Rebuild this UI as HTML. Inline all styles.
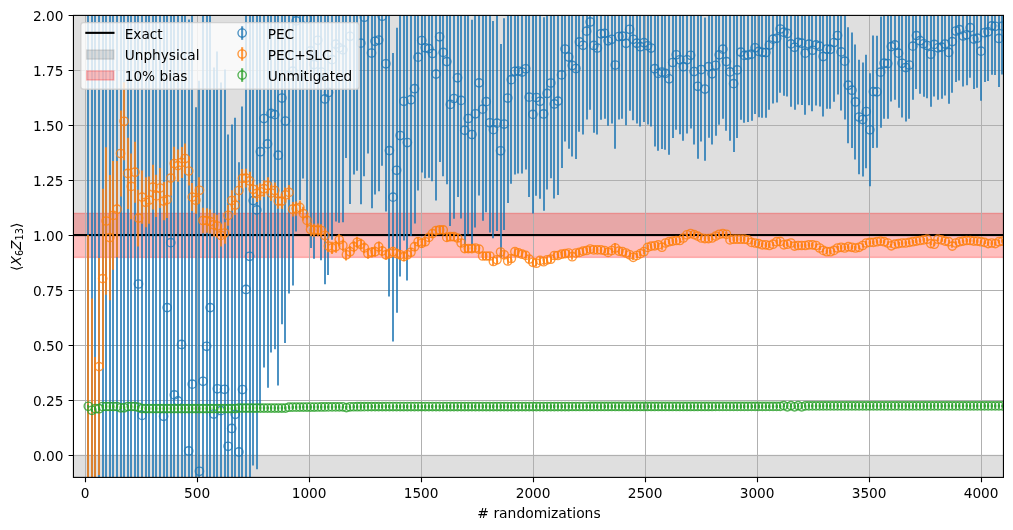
<!DOCTYPE html>
<html><head><meta charset="utf-8"><title>PEC convergence</title>
<style>html,body{margin:0;padding:0;background:#fff}svg{display:block}</style></head>
<body>
<svg width="1013" height="530" viewBox="0 0 1013 530">
<rect width="1013" height="530" fill="#fff"/>
<defs><clipPath id="ax"><rect x="73.45" y="15.4" width="930.0" height="462.0"/></clipPath></defs>
<g clip-path="url(#ax)">
<rect x="68.45" y="10.4" width="940.0" height="225.0" fill="#808080" fill-opacity="0.25" stroke="#808080" stroke-opacity="0.25" stroke-width="1.39"/>
<rect x="68.45" y="455.4" width="940.0" height="40" fill="#808080" fill-opacity="0.25" stroke="#808080" stroke-opacity="0.25" stroke-width="1.39"/>
<rect x="68.45" y="213.4" width="940.0" height="44.0" fill="#ff0000" fill-opacity="0.25" stroke="#ff0000" stroke-opacity="0.25" stroke-width="1.39"/>
<path d="M85.5 15.4 V477.4 M197.5 15.4 V477.4 M309.5 15.4 V477.4 M421.5 15.4 V477.4 M533.5 15.4 V477.4 M645.5 15.4 V477.4 M757.5 15.4 V477.4 M869.5 15.4 V477.4 M981.5 15.4 V477.4 M73.45 455.5 H1003.45 M73.45 400.5 H1003.45 M73.45 345.5 H1003.45 M73.45 290.5 H1003.45 M73.45 235.5 H1003.45 M73.45 180.5 H1003.45 M73.45 125.5 H1003.45 M73.45 70.5 H1003.45 M73.45 15.5 H1003.45" stroke="#b0b0b0" stroke-width="1" fill="none"/>
<rect x="73.45" y="234" width="930.0" height="2.1" fill="#000"/>
<path d="M88 13.4 V479.4 M92 13.4 V479.4 M95 13.4 V479.4 M99 13.4 V479.4 M103 13.4 V479.4 M106 13.4 V479.4 M110 13.4 V479.4 M113 13.4 V479.4 M117 13.4 V479.4 M121 13.4 V479.4 M124 13.4 V479.4 M128 13.4 V479.4 M131 13.4 V479.4 M135 13.4 V479.4 M138 12.4 V480.4 M142 12.4 V480.4 M146 13.4 V479.4 M149 13.4 V479.4 M153 13.4 V479.4 M156 13.4 V479.4 M160 13.4 V479.4 M164 12.4 V480.4 M167 12.4 V480.4 M171 12.4 V480.4 M174 12.4 V480.4 M178 12.4 V480.4 M182 12.4 V480.4 M185 13.4 V479.4 M189 19.5 V480.4 M192 12.4 V480.4 M196 107.15 V480.4 M199 80.8 V480.4 M203 12.4 V480.4 M207 12.4 V480.4 M210 12.4 V480.4 M214 67.43 V480.4 M217 51.57 V480.4 M221 82.41 V480.4 M225 69.56 V480.4 M228 134.61 V480.4 M232 124.45 V480.4 M235 117.66 V480.4 M239 162.21 V480.4 M242 106.45 V480.4 M246 12.7 V480.4 M250 12.4 V480.4 M253 12.4 V465.49 M257 12.4 V469.22 M260 12.4 V405.69 M264 12.4 V367.43 M268 12.4 V387.87 M271 12.4 V352.59 M275 12.4 V349.36 M278 12.4 V385.51 M282 12.4 V324.14 M285 12.4 V343.1 M289 12.4 V293.6 M293 12.4 V285.42 M296 12.4 V231.59 M300 12.4 V199.97 M303 12.4 V178.5 M307 12.4 V219.41 M311 12.4 V248.11 M314 12.4 V258.65 M318 12.4 V231.39 M321 12.4 V260.28 M325 12.4 V284.35 M328 12.4 V275.08 M332 12.4 V239.63 M336 12.4 V221.51 M339 12.4 V222.68 M343 12.4 V222.28 M346 12.4 V158.12 M350 12.4 V204.07 M354 12.4 V174.47 M357 12.4 V170.84 M361 12.4 V204.3 M364 12.4 V176.31 M368 12.4 V153.58 M372 12.4 V208.15 M375 12.4 V194.49 M379 12.4 V191.32 M382 12.4 V165.72 M386 12.4 V211.49 M389 12.4 V296.54 M393 52.93 V341.4 M397 27.69 V312.82 M400 12.4 V276.47 M404 12.4 V240.62 M407 12.4 V280.38 M411 12.4 V235.96 M415 12.4 V223.48 M418 12.4 V190.48 M422 12.4 V172.4 M425 12.4 V178.35 M429 12.4 V177.83 M432 12.4 V181.32 M436 12.4 V200.62 M440 12.4 V162.05 M443 12.4 V176.35 M447 12.4 V184.35 M450 12.4 V225.9 M454 12.4 V218.85 M458 12.4 V196.96 M461 12.4 V218.44 M465 13.38 V247.22 M468 12.4 V234.32 M472 19.75 V249.25 M475 12.4 V227.49 M479 12.4 V195.51 M483 12.4 V220.81 M486 12.4 V212.28 M490 13.13 V232.44 M493 20.97 V238.35 M497 15.41 V230.9 M501 43.99 V257.61 M504 18.2 V229.99 M508 12.4 V203.01 M511 12.4 V183.76 M515 12.4 V174.57 M518 12.4 V173.44 M522 12.4 V173.58 M526 12.4 V169.51 M529 12.4 V197.07 M533 15.29 V213.48 M536 12.4 V195.82 M540 12.4 V198.77 M544 17.21 V210.75 M547 12.4 V189.48 M551 12.4 V178.28 M554 12.4 V198.5 M558 12.4 V194.93 M562 12.4 V168 M565 12.4 V141.43 M569 12.4 V148.77 M572 12.4 V156.54 M576 12.4 V158.92 M579 12.4 V131.63 M583 12.4 V134.39 M587 12.4 V119.58 M590 12.4 V109.8 M594 12.4 V132.67 M597 12.4 V134.58 M601 12.4 V119.79 M605 12.4 V118.68 M608 12.4 V125.63 M612 12.4 V123.5 M615 12.4 V148.68 M619 12.4 V119.61 M622 12.4 V118.76 M626 12.4 V125.36 M630 12.4 V110.77 M633 12.4 V120.22 M637 12.4 V123.61 M640 12.4 V126.59 M644 12.4 V122.06 M648 12.4 V124.62 M651 12.4 V126.39 M655 12.4 V146.57 M658 12.4 V150.76 M662 12.4 V148.91 M665 12.4 V149.78 M669 12.4 V154.77 M673 12.4 V137.96 M676 12.4 V129.76 M680 12.4 V134.33 M683 12.4 V140.84 M687 12.4 V133.43 M691 12.4 V128.56 M694 12.4 V144.4 M698 13.91 V158.67 M701 12.4 V141.51 M705 17.54 V160.63 M709 12.4 V137.85 M712 12.4 V144.55 M716 12.4 V135.64 M719 12.4 V124.79 M723 12.4 V118.66 M726 12.4 V130.76 M730 12.4 V140.69 M734 15.26 V152 M737 12.4 V137.95 M741 12.4 V119.72 M744 12.4 V122.69 M748 12.4 V121.96 M752 12.4 V120.69 M755 12.4 V113.97 M759 12.4 V117.25 M762 12.4 V117.79 M766 12.4 V117.68 M769 12.4 V109.82 M773 12.4 V103.59 M777 12.4 V102.45 M780 12.4 V92.77 M784 12.4 V95.69 M787 12.4 V96.61 M791 12.4 V106.73 M795 12.4 V109.78 M798 12.4 V104.46 M802 12.4 V105.09 M805 12.4 V114.73 M809 12.4 V105.37 M812 12.4 V111.2 M816 12.4 V105.53 M820 12.4 V106.58 M823 12.4 V116.6 M827 12.4 V108.81 M830 12.4 V108.83 M834 12.4 V101.78 M838 12.4 V94.42 M841 12.4 V110.55 M845 12.4 V119.54 M848 27.15 V143.31 M852 32.38 V148.01 M855 44.42 V159.51 M859 59.77 V174.32 M863 62.51 V176.54 M866 54.84 V168.34 M870 73.33 V186.31 M873 35.41 V147.88 M877 35.85 V147.81 M881 16.42 V127.87 M884 12.4 V118.7 M888 12.4 V118.8 M891 12.4 V101.58 M895 12.4 V99.68 M899 12.4 V107.66 M902 12.4 V117.57 M906 13.51 V121.55 M909 12.4 V118.86 M913 12.4 V99.71 M916 12.4 V88.93 M920 12.4 V93.81 M924 12.4 V96.7 M927 12.4 V98.14 M931 12.4 V106.66 M934 12.4 V96.6 M938 12.4 V99.79 M942 12.4 V98.87 M945 12.4 V95.53 M949 12.4 V103.75 M952 12.4 V92.72 M956 12.4 V81.95 M959 12.4 V80.42 M963 12.4 V86.47 M967 12.4 V85.13 M970 12.4 V77.8 M974 12.4 V88.99 M977 12.4 V87.77 M981 12.4 V100.65 M985 12.4 V82.01 M988 12.4 V80.92 M992 12.4 V74.74 M995 12.4 V74.97 M999 12.4 V86.96 M1002 12.4 V74.42" stroke="#1f77b4" stroke-opacity="0.8" stroke-width="2" fill="none"/>
<g fill="none" stroke="#1f77b4" stroke-opacity="0.8" stroke-width="1.39">
<circle cx="138.49" cy="284" r="4.17"/>
<circle cx="142.07" cy="415.41" r="4.17"/>
<circle cx="163.58" cy="416.32" r="4.17"/>
<circle cx="167.17" cy="307.61" r="4.17"/>
<circle cx="170.75" cy="242.68" r="4.17"/>
<circle cx="174.34" cy="394.89" r="4.17"/>
<circle cx="177.93" cy="400.88" r="4.17"/>
<circle cx="181.51" cy="344.49" r="4.17"/>
<circle cx="188.68" cy="450.95" r="4.17"/>
<circle cx="192.26" cy="384.17" r="4.17"/>
<circle cx="199.44" cy="471.31" r="4.17"/>
<circle cx="203.02" cy="381.26" r="4.17"/>
<circle cx="206.6" cy="346.3" r="4.17"/>
<circle cx="210.19" cy="307.61" r="4.17"/>
<circle cx="213.77" cy="414.09" r="4.17"/>
<circle cx="217.36" cy="388.77" r="4.17"/>
<circle cx="220.94" cy="410.65" r="4.17"/>
<circle cx="224.53" cy="389.3" r="4.17"/>
<circle cx="228.12" cy="446.28" r="4.17"/>
<circle cx="231.7" cy="428.45" r="4.17"/>
<circle cx="235.28" cy="414.36" r="4.17"/>
<circle cx="238.87" cy="451.94" r="4.17"/>
<circle cx="242.45" cy="389.54" r="4.17"/>
<circle cx="246.04" cy="289.45" r="4.17"/>
<circle cx="249.62" cy="256.3" r="4.17"/>
<circle cx="253.21" cy="200.61" r="4.17"/>
<circle cx="256.8" cy="209.9" r="4.17"/>
<circle cx="260.38" cy="151.71" r="4.17"/>
<circle cx="263.96" cy="118.56" r="4.17"/>
<circle cx="267.55" cy="143.92" r="4.17"/>
<circle cx="271.13" cy="113.36" r="4.17"/>
<circle cx="274.72" cy="114.68" r="4.17"/>
<circle cx="278.31" cy="155.2" r="4.17"/>
<circle cx="281.89" cy="98.05" r="4.17"/>
<circle cx="285.48" cy="121.08" r="4.17"/>
<circle cx="289.06" cy="75.5" r="4.17"/>
<circle cx="292.64" cy="71.11" r="4.17"/>
<circle cx="296.23" cy="20.93" r="4.17"/>
<circle cx="306.99" cy="19" r="4.17"/>
<circle cx="310.57" cy="50.91" r="4.17"/>
<circle cx="314.15" cy="64.54" r="4.17"/>
<circle cx="317.74" cy="40.29" r="4.17"/>
<circle cx="321.32" cy="72.09" r="4.17"/>
<circle cx="324.91" cy="98.98" r="4.17"/>
<circle cx="328.5" cy="92.45" r="4.17"/>
<circle cx="332.08" cy="59.66" r="4.17"/>
<circle cx="335.67" cy="44.13" r="4.17"/>
<circle cx="339.25" cy="47.81" r="4.17"/>
<circle cx="342.83" cy="49.85" r="4.17"/>
<circle cx="350" cy="36.33" r="4.17"/>
<circle cx="353.59" cy="8.97" r="4.17"/>
<circle cx="357.18" cy="7.53" r="4.17"/>
<circle cx="360.76" cy="43.13" r="4.17"/>
<circle cx="364.35" cy="17.21" r="4.17"/>
<circle cx="371.51" cy="53.05" r="4.17"/>
<circle cx="375.1" cy="41.31" r="4.17"/>
<circle cx="378.69" cy="40.02" r="4.17"/>
<circle cx="382.27" cy="16.24" r="4.17"/>
<circle cx="385.86" cy="63.81" r="4.17"/>
<circle cx="389.44" cy="150.6" r="4.17"/>
<circle cx="393.03" cy="197.16" r="4.17"/>
<circle cx="396.61" cy="170.25" r="4.17"/>
<circle cx="400.19" cy="135.52" r="4.17"/>
<circle cx="403.78" cy="101.27" r="4.17"/>
<circle cx="407.37" cy="142.59" r="4.17"/>
<circle cx="410.95" cy="99.69" r="4.17"/>
<circle cx="414.54" cy="88.69" r="4.17"/>
<circle cx="418.12" cy="57.15" r="4.17"/>
<circle cx="421.7" cy="40.49" r="4.17"/>
<circle cx="425.29" cy="47.83" r="4.17"/>
<circle cx="428.88" cy="48.68" r="4.17"/>
<circle cx="432.46" cy="53.51" r="4.17"/>
<circle cx="436.05" cy="74.11" r="4.17"/>
<circle cx="439.63" cy="36.83" r="4.17"/>
<circle cx="443.22" cy="52.38" r="4.17"/>
<circle cx="446.8" cy="61.62" r="4.17"/>
<circle cx="450.38" cy="104.38" r="4.17"/>
<circle cx="453.97" cy="98.5" r="4.17"/>
<circle cx="457.56" cy="77.78" r="4.17"/>
<circle cx="461.14" cy="100.4" r="4.17"/>
<circle cx="464.73" cy="130.3" r="4.17"/>
<circle cx="468.31" cy="118.49" r="4.17"/>
<circle cx="471.89" cy="134.5" r="4.17"/>
<circle cx="475.48" cy="113.8" r="4.17"/>
<circle cx="479.06" cy="82.86" r="4.17"/>
<circle cx="482.65" cy="109.17" r="4.17"/>
<circle cx="486.24" cy="101.64" r="4.17"/>
<circle cx="489.82" cy="122.79" r="4.17"/>
<circle cx="493.41" cy="129.66" r="4.17"/>
<circle cx="496.99" cy="123.15" r="4.17"/>
<circle cx="500.57" cy="150.8" r="4.17"/>
<circle cx="504.16" cy="124.09" r="4.17"/>
<circle cx="507.75" cy="98.02" r="4.17"/>
<circle cx="511.33" cy="79.66" r="4.17"/>
<circle cx="514.91" cy="71.33" r="4.17"/>
<circle cx="518.5" cy="71.06" r="4.17"/>
<circle cx="522.08" cy="72.04" r="4.17"/>
<circle cx="525.67" cy="68.79" r="4.17"/>
<circle cx="529.25" cy="97.18" r="4.17"/>
<circle cx="532.84" cy="114.39" r="4.17"/>
<circle cx="536.42" cy="97.51" r="4.17"/>
<circle cx="540.01" cy="101.24" r="4.17"/>
<circle cx="543.6" cy="113.98" r="4.17"/>
<circle cx="547.18" cy="93.47" r="4.17"/>
<circle cx="550.76" cy="83" r="4.17"/>
<circle cx="554.35" cy="103.95" r="4.17"/>
<circle cx="557.93" cy="101.1" r="4.17"/>
<circle cx="561.52" cy="74.88" r="4.17"/>
<circle cx="565.11" cy="49.01" r="4.17"/>
<circle cx="568.69" cy="57.04" r="4.17"/>
<circle cx="572.27" cy="65.48" r="4.17"/>
<circle cx="575.86" cy="68.53" r="4.17"/>
<circle cx="579.44" cy="41.9" r="4.17"/>
<circle cx="583.03" cy="45.3" r="4.17"/>
<circle cx="586.62" cy="31.13" r="4.17"/>
<circle cx="590.2" cy="21.98" r="4.17"/>
<circle cx="593.78" cy="45.47" r="4.17"/>
<circle cx="597.37" cy="47.99" r="4.17"/>
<circle cx="600.95" cy="33.8" r="4.17"/>
<circle cx="604.54" cy="33.29" r="4.17"/>
<circle cx="608.12" cy="40.83" r="4.17"/>
<circle cx="611.71" cy="39.27" r="4.17"/>
<circle cx="615.29" cy="65.02" r="4.17"/>
<circle cx="618.88" cy="36.52" r="4.17"/>
<circle cx="622.46" cy="36.22" r="4.17"/>
<circle cx="626.05" cy="43.37" r="4.17"/>
<circle cx="629.63" cy="29.32" r="4.17"/>
<circle cx="633.22" cy="39.3" r="4.17"/>
<circle cx="636.8" cy="43.22" r="4.17"/>
<circle cx="640.39" cy="46.72" r="4.17"/>
<circle cx="643.97" cy="42.7" r="4.17"/>
<circle cx="647.56" cy="45.76" r="4.17"/>
<circle cx="651.14" cy="48.04" r="4.17"/>
<circle cx="654.73" cy="68.71" r="4.17"/>
<circle cx="658.31" cy="73.4" r="4.17"/>
<circle cx="661.9" cy="72.02" r="4.17"/>
<circle cx="665.48" cy="73.37" r="4.17"/>
<circle cx="669.07" cy="78.83" r="4.17"/>
<circle cx="672.65" cy="62.49" r="4.17"/>
<circle cx="676.24" cy="54.74" r="4.17"/>
<circle cx="679.82" cy="59.76" r="4.17"/>
<circle cx="683.41" cy="66.72" r="4.17"/>
<circle cx="687" cy="59.75" r="4.17"/>
<circle cx="690.58" cy="55.32" r="4.17"/>
<circle cx="694.16" cy="71.59" r="4.17"/>
<circle cx="697.75" cy="86.29" r="4.17"/>
<circle cx="701.33" cy="69.55" r="4.17"/>
<circle cx="704.92" cy="89.09" r="4.17"/>
<circle cx="708.5" cy="66.72" r="4.17"/>
<circle cx="712.09" cy="73.83" r="4.17"/>
<circle cx="715.67" cy="65.32" r="4.17"/>
<circle cx="719.26" cy="54.87" r="4.17"/>
<circle cx="722.84" cy="49.13" r="4.17"/>
<circle cx="726.43" cy="61.62" r="4.17"/>
<circle cx="730.01" cy="71.93" r="4.17"/>
<circle cx="733.6" cy="83.63" r="4.17"/>
<circle cx="737.18" cy="69.95" r="4.17"/>
<circle cx="740.77" cy="52.1" r="4.17"/>
<circle cx="744.35" cy="55.43" r="4.17"/>
<circle cx="747.94" cy="55.07" r="4.17"/>
<circle cx="751.52" cy="54.16" r="4.17"/>
<circle cx="755.11" cy="47.8" r="4.17"/>
<circle cx="758.69" cy="51.42" r="4.17"/>
<circle cx="762.28" cy="52.32" r="4.17"/>
<circle cx="765.86" cy="52.55" r="4.17"/>
<circle cx="769.45" cy="45.03" r="4.17"/>
<circle cx="773.03" cy="39.14" r="4.17"/>
<circle cx="776.62" cy="38.33" r="4.17"/>
<circle cx="780.2" cy="28.99" r="4.17"/>
<circle cx="783.79" cy="32.23" r="4.17"/>
<circle cx="787.38" cy="33.48" r="4.17"/>
<circle cx="790.96" cy="43.92" r="4.17"/>
<circle cx="794.54" cy="47.29" r="4.17"/>
<circle cx="798.13" cy="42.29" r="4.17"/>
<circle cx="801.71" cy="43.22" r="4.17"/>
<circle cx="805.3" cy="53.18" r="4.17"/>
<circle cx="808.88" cy="44.12" r="4.17"/>
<circle cx="812.47" cy="50.25" r="4.17"/>
<circle cx="816.05" cy="44.88" r="4.17"/>
<circle cx="819.64" cy="46.23" r="4.17"/>
<circle cx="823.22" cy="56.54" r="4.17"/>
<circle cx="826.81" cy="49.04" r="4.17"/>
<circle cx="830.39" cy="49.35" r="4.17"/>
<circle cx="833.98" cy="42.58" r="4.17"/>
<circle cx="837.56" cy="35.5" r="4.17"/>
<circle cx="841.15" cy="51.92" r="4.17"/>
<circle cx="844.73" cy="61.18" r="4.17"/>
<circle cx="848.32" cy="85.23" r="4.17"/>
<circle cx="851.9" cy="90.19" r="4.17"/>
<circle cx="855.49" cy="101.96" r="4.17"/>
<circle cx="859.07" cy="117.04" r="4.17"/>
<circle cx="862.66" cy="119.52" r="4.17"/>
<circle cx="866.24" cy="111.59" r="4.17"/>
<circle cx="869.83" cy="129.82" r="4.17"/>
<circle cx="873.41" cy="91.65" r="4.17"/>
<circle cx="877" cy="91.83" r="4.17"/>
<circle cx="880.58" cy="72.14" r="4.17"/>
<circle cx="884.17" cy="63.23" r="4.17"/>
<circle cx="887.75" cy="63.57" r="4.17"/>
<circle cx="891.34" cy="46.6" r="4.17"/>
<circle cx="894.92" cy="44.95" r="4.17"/>
<circle cx="898.51" cy="53.16" r="4.17"/>
<circle cx="902.09" cy="63.31" r="4.17"/>
<circle cx="905.68" cy="67.53" r="4.17"/>
<circle cx="909.26" cy="65.08" r="4.17"/>
<circle cx="912.85" cy="46.16" r="4.17"/>
<circle cx="916.43" cy="35.61" r="4.17"/>
<circle cx="920.02" cy="40.72" r="4.17"/>
<circle cx="923.6" cy="43.83" r="4.17"/>
<circle cx="927.19" cy="45.5" r="4.17"/>
<circle cx="930.77" cy="54.25" r="4.17"/>
<circle cx="934.36" cy="44.4" r="4.17"/>
<circle cx="937.94" cy="47.82" r="4.17"/>
<circle cx="941.53" cy="47.12" r="4.17"/>
<circle cx="945.11" cy="43.99" r="4.17"/>
<circle cx="948.7" cy="52.43" r="4.17"/>
<circle cx="952.28" cy="41.61" r="4.17"/>
<circle cx="955.87" cy="31.05" r="4.17"/>
<circle cx="959.45" cy="29.73" r="4.17"/>
<circle cx="963.04" cy="35.99" r="4.17"/>
<circle cx="966.62" cy="34.85" r="4.17"/>
<circle cx="970.21" cy="27.72" r="4.17"/>
<circle cx="973.79" cy="39.12" r="4.17"/>
<circle cx="977.38" cy="38.1" r="4.17"/>
<circle cx="980.96" cy="51.18" r="4.17"/>
<circle cx="984.55" cy="32.73" r="4.17"/>
<circle cx="988.13" cy="31.84" r="4.17"/>
<circle cx="991.72" cy="25.85" r="4.17"/>
<circle cx="995.3" cy="26.28" r="4.17"/>
<circle cx="998.89" cy="38.46" r="4.17"/>
<circle cx="1002.47" cy="26.11" r="4.17"/>
</g>
<path d="M88 235 V480.4 M92 298.62 V480.4 M95 356.9 V480.4 M99 258.1 V475.1 M103 188.87 V368.33 M106 147.22 V294.78 M110 174.96 V300.24 M113 160.97 V269.83 M117 161.08 V257.32 M121 110.38 V196.62 M124 82.24 V160.36 M128 137.7 V209.1 M131 153.53 V219.27 M135 141.74 V202.66 M138 189.72 V246.48 M142 170.54 V223.66 M146 177.34 V227.26 M149 176.55 V223.65 M153 164.82 V209.38 M156 174.75 V217.05 M160 167.88 V208.12 M164 181.91 V220.29 M167 181.26 V217.94 M171 160.53 V195.67 M174 146.65 V180.35 M178 149.4 V181.8 M182 146.91 V178.09 M185 143.48 V173.52 M189 156.5 V185.5 M192 183.09 V211.11 M196 186.65 V213.75 M199 177.18 V203.42 M203 207.78 V233.22 M207 208.16 V232.84 M210 209.61 V233.59 M214 213.15 V236.45 M217 214.67 V237.33 M221 224.37 V246.43 M225 222.26 V243.74 M228 204.93 V225.87 M232 190.28 V210.72 M235 195.13 V215.07 M239 180.76 V200.24 M242 168.89 V187.91 M246 168.8 V187.4 M250 171.8 V190 M253 180.4 V198.2 M257 184.69 V202.11 M260 183.27 V200.33 M264 180.34 V197.06 M268 177.3 V193.7 M271 184.96 V201.04 M275 182.61 V198.39 M278 193.36 V208.84 M282 193.5 V208.7 M285 187.44 V202.36 M289 185.07 V199.73 M293 202 V216.4 M296 201.52 V215.68 M300 200.44 V214.36 M303 206.75 V220.45 M307 213.67 V227.13 M311 222.87 V236.13 M314 223.78 V236.82 M318 223.48 V236.32 M321 224.18 V236.82 M325 229.27 V241.73 M328 239.96 V252.24 M332 241.85 V253.95 M336 240.74 V252.66 M339 233.92 V245.68 M343 239.61 V251.19 M346 249.09 V260.51 M350 246.06 V257.34 M354 241.14 V252.26 M357 236.81 V247.79 M361 238.78 V249.62 M364 242.55 V253.25 M368 248.22 V258.78 M372 247.09 V257.51 M375 246.55 V256.85 M379 241.62 V251.78 M382 245.98 V256.02 M386 249.84 V259.76 M389 248.6 V258.4 M393 246.85 V256.55 M397 248.71 V258.29 M400 250.06 V259.54 M404 251.92 V261.28 M407 250.17 V259.43 M411 247.72 V256.88 M415 242.17 V251.23 M418 237.22 V246.18 M422 238.87 V247.73 M425 237.31 V246.09 M429 233.06 V241.74 M432 229.31 V237.89 M436 226.25 V234.75 M440 225.69 V234.11 M443 225.73 V234.07 M447 233.28 V241.52 M450 232.62 V240.78 M454 232.66 V240.74 M458 234 V242 M461 239.03 V246.97 M465 244.67 V252.53 M468 244.71 V252.49 M472 244.74 V252.46 M475 244.18 V251.82 M479 245.41 V252.99 M483 252.25 V259.75 M486 252.28 V259.72 M490 252.32 V259.68 M493 257.85 V265.15 M497 256.18 V263.42 M501 248.41 V255.59 M504 251.24 V258.36 M508 257.47 V264.53 M511 255 V262 M515 248.23 V255.17 M518 249.46 V256.34 M522 250.79 V257.61 M526 252.02 V258.78 M529 255.74 V262.46 M533 258.97 V265.63 M536 259.9 V266.5 M540 257.12 V263.68 M544 258.45 V264.95 M547 256.57 V263.03 M551 256 V262.4 M554 252.32 V258.68 M558 252.35 V258.65 M562 251.07 V257.33 M565 250.49 V256.71 M569 249.92 V256.08 M572 253.64 V259.76 M576 249.96 V256.04 M579 249.38 V255.42 M583 248.11 V254.09 M587 247.53 V253.47 M590 246.05 V251.95 M594 246.97 V252.83 M597 246.99 V252.81 M601 247.01 V252.79 M605 247.63 V253.37 M608 249.55 V255.25 M612 247.67 V253.33 M615 243 V253 M619 248.31 V253.89 M622 248.93 V254.47 M626 250.24 V255.76 M630 252.06 V257.54 M633 254.58 V260.02 M637 252.8 V258.2 M640 250.92 V256.28 M644 249.03 V254.37 M648 244.75 V250.05 M651 243.47 V248.73 M655 243.18 V248.42 M658 242.3 V247.5 M662 244.62 V249.78 M665 240.43 V245.57 M669 239.15 V244.25 M673 238.56 V243.64 M676 237.98 V243.02 M680 237.99 V243.01 M683 235.51 V240.49 M687 232.32 V237.28 M691 231.04 V235.96 M694 232.15 V237.05 M698 233.67 V238.53 M701 235.58 V240.42 M705 236.2 V241 M709 236.21 V240.99 M712 235.62 V240.38 M716 233.74 V238.46 M719 231.95 V236.65 M723 231.26 V235.94 M726 231.98 V236.62 M730 237.59 V242.21 M734 236.9 V241.5 M737 236.92 V241.48 M741 236.93 V241.47 M744 236.94 V241.46 M748 237.65 V242.15 M752 240.16 V244.64 M755 240.78 V245.22 M759 241.39 V245.81 M762 242.6 V247 M766 242.61 V246.99 M769 243.32 V247.68 M773 242.03 V246.37 M777 239.55 V243.85 M780 239.26 V243.54 M784 242.67 V246.93 M787 242.08 V246.32 M791 240.89 V245.11 M795 244 V248.2 M798 243.41 V247.59 M802 243.42 V247.58 M805 243.43 V247.57 M809 242.74 V246.86 M812 242.75 V246.85 M816 243.46 V247.54 M820 245.97 V250.03 M823 248.38 V252.42 M827 249.69 V253.71 M830 249.7 V253.7 M834 248.41 V252.39 M838 246.02 V249.98 M841 245.33 V249.27 M845 246.04 V249.96 M848 244.75 V248.65 M852 245.36 V249.24 M855 246.07 V249.93 M859 245.38 V249.22 M863 243.58 V247.42 M866 241.09 V244.91 M870 240.5 V244.3 M873 240.51 V244.29 M877 239.82 V243.58 M881 239.23 V242.97 M884 239.84 V243.56 M888 241.14 V244.86 M891 243.95 V247.65 M895 242.36 V246.04 M899 241.77 V245.43 M902 241.18 V244.82 M906 241.18 V244.82 M909 240.59 V244.21 M913 239.9 V243.5 M916 239.31 V242.89 M920 238.72 V242.28 M924 238.12 V241.68 M927 237.43 V240.97 M931 241.84 V245.36 M934 242.45 V245.95 M938 237.45 V240.95 M942 238.16 V241.64 M945 239.37 V242.83 M949 239.98 V243.42 M952 244.38 V247.82 M956 241.29 V244.71 M959 240 V243.4 M963 239.4 V242.8 M967 238.81 V242.19 M970 238.82 V242.18 M974 239.42 V242.78 M977 239.43 V242.77 M981 240.04 V243.36 M985 240.74 V244.06 M988 241.95 V245.25 M992 241.36 V244.64 M995 241.96 V245.24 M999 240.07 V243.33 M1002 239.48 V242.72" stroke="#ff7f0e" stroke-opacity="0.8" stroke-width="2" fill="none"/>
<g fill="none" stroke="#ff7f0e" stroke-opacity="0.8" stroke-width="1.39">
<circle cx="99.05" cy="366.6" r="4.17"/>
<circle cx="102.64" cy="278.6" r="4.17"/>
<circle cx="106.22" cy="221" r="4.17"/>
<circle cx="109.81" cy="237.6" r="4.17"/>
<circle cx="113.39" cy="215.4" r="4.17"/>
<circle cx="116.98" cy="209.2" r="4.17"/>
<circle cx="120.56" cy="153.5" r="4.17"/>
<circle cx="124.15" cy="121.3" r="4.17"/>
<circle cx="127.73" cy="173.4" r="4.17"/>
<circle cx="131.32" cy="186.4" r="4.17"/>
<circle cx="134.91" cy="172.2" r="4.17"/>
<circle cx="138.49" cy="218.1" r="4.17"/>
<circle cx="142.07" cy="197.1" r="4.17"/>
<circle cx="145.66" cy="202.3" r="4.17"/>
<circle cx="149.25" cy="200.1" r="4.17"/>
<circle cx="152.83" cy="187.1" r="4.17"/>
<circle cx="156.41" cy="195.9" r="4.17"/>
<circle cx="160" cy="188" r="4.17"/>
<circle cx="163.58" cy="201.1" r="4.17"/>
<circle cx="167.17" cy="199.6" r="4.17"/>
<circle cx="170.75" cy="178.1" r="4.17"/>
<circle cx="174.34" cy="163.5" r="4.17"/>
<circle cx="177.93" cy="165.6" r="4.17"/>
<circle cx="181.51" cy="162.5" r="4.17"/>
<circle cx="185.09" cy="158.5" r="4.17"/>
<circle cx="188.68" cy="171" r="4.17"/>
<circle cx="192.26" cy="197.1" r="4.17"/>
<circle cx="195.85" cy="200.2" r="4.17"/>
<circle cx="199.44" cy="190.3" r="4.17"/>
<circle cx="203.02" cy="220.5" r="4.17"/>
<circle cx="206.6" cy="220.5" r="4.17"/>
<circle cx="210.19" cy="221.6" r="4.17"/>
<circle cx="213.77" cy="224.8" r="4.17"/>
<circle cx="217.36" cy="226" r="4.17"/>
<circle cx="220.94" cy="235.4" r="4.17"/>
<circle cx="224.53" cy="233" r="4.17"/>
<circle cx="228.12" cy="215.4" r="4.17"/>
<circle cx="231.7" cy="200.5" r="4.17"/>
<circle cx="235.28" cy="205.1" r="4.17"/>
<circle cx="238.87" cy="190.5" r="4.17"/>
<circle cx="242.45" cy="178.4" r="4.17"/>
<circle cx="246.04" cy="178.1" r="4.17"/>
<circle cx="249.62" cy="180.9" r="4.17"/>
<circle cx="253.21" cy="189.3" r="4.17"/>
<circle cx="256.8" cy="193.4" r="4.17"/>
<circle cx="260.38" cy="191.8" r="4.17"/>
<circle cx="263.96" cy="188.7" r="4.17"/>
<circle cx="267.55" cy="185.5" r="4.17"/>
<circle cx="271.13" cy="193" r="4.17"/>
<circle cx="274.72" cy="190.5" r="4.17"/>
<circle cx="278.31" cy="201.1" r="4.17"/>
<circle cx="281.89" cy="201.1" r="4.17"/>
<circle cx="285.48" cy="194.9" r="4.17"/>
<circle cx="289.06" cy="192.4" r="4.17"/>
<circle cx="292.64" cy="209.2" r="4.17"/>
<circle cx="296.23" cy="208.6" r="4.17"/>
<circle cx="299.81" cy="207.4" r="4.17"/>
<circle cx="303.4" cy="213.6" r="4.17"/>
<circle cx="306.99" cy="220.4" r="4.17"/>
<circle cx="310.57" cy="229.5" r="4.17"/>
<circle cx="314.15" cy="230.3" r="4.17"/>
<circle cx="317.74" cy="229.9" r="4.17"/>
<circle cx="321.32" cy="230.5" r="4.17"/>
<circle cx="324.91" cy="235.5" r="4.17"/>
<circle cx="328.5" cy="246.1" r="4.17"/>
<circle cx="332.08" cy="247.9" r="4.17"/>
<circle cx="335.67" cy="246.7" r="4.17"/>
<circle cx="339.25" cy="239.8" r="4.17"/>
<circle cx="342.83" cy="245.4" r="4.17"/>
<circle cx="346.42" cy="254.8" r="4.17"/>
<circle cx="350" cy="251.7" r="4.17"/>
<circle cx="353.59" cy="246.7" r="4.17"/>
<circle cx="357.18" cy="242.3" r="4.17"/>
<circle cx="360.76" cy="244.2" r="4.17"/>
<circle cx="364.35" cy="247.9" r="4.17"/>
<circle cx="367.93" cy="253.5" r="4.17"/>
<circle cx="371.51" cy="252.3" r="4.17"/>
<circle cx="375.1" cy="251.7" r="4.17"/>
<circle cx="378.69" cy="246.7" r="4.17"/>
<circle cx="382.27" cy="251" r="4.17"/>
<circle cx="385.86" cy="254.8" r="4.17"/>
<circle cx="389.44" cy="253.5" r="4.17"/>
<circle cx="393.03" cy="251.7" r="4.17"/>
<circle cx="396.61" cy="253.5" r="4.17"/>
<circle cx="400.19" cy="254.8" r="4.17"/>
<circle cx="403.78" cy="256.6" r="4.17"/>
<circle cx="407.37" cy="254.8" r="4.17"/>
<circle cx="410.95" cy="252.3" r="4.17"/>
<circle cx="414.54" cy="246.7" r="4.17"/>
<circle cx="418.12" cy="241.7" r="4.17"/>
<circle cx="421.7" cy="243.3" r="4.17"/>
<circle cx="425.29" cy="241.7" r="4.17"/>
<circle cx="428.88" cy="237.4" r="4.17"/>
<circle cx="432.46" cy="233.6" r="4.17"/>
<circle cx="436.05" cy="230.5" r="4.17"/>
<circle cx="439.63" cy="229.9" r="4.17"/>
<circle cx="443.22" cy="229.9" r="4.17"/>
<circle cx="446.8" cy="237.4" r="4.17"/>
<circle cx="450.38" cy="236.7" r="4.17"/>
<circle cx="453.97" cy="236.7" r="4.17"/>
<circle cx="457.56" cy="238" r="4.17"/>
<circle cx="461.14" cy="243" r="4.17"/>
<circle cx="464.73" cy="248.6" r="4.17"/>
<circle cx="468.31" cy="248.6" r="4.17"/>
<circle cx="471.89" cy="248.6" r="4.17"/>
<circle cx="475.48" cy="248" r="4.17"/>
<circle cx="479.06" cy="249.2" r="4.17"/>
<circle cx="482.65" cy="256" r="4.17"/>
<circle cx="486.24" cy="256" r="4.17"/>
<circle cx="489.82" cy="256" r="4.17"/>
<circle cx="493.41" cy="261.5" r="4.17"/>
<circle cx="496.99" cy="259.8" r="4.17"/>
<circle cx="500.57" cy="252" r="4.17"/>
<circle cx="504.16" cy="254.8" r="4.17"/>
<circle cx="507.75" cy="261" r="4.17"/>
<circle cx="511.33" cy="258.5" r="4.17"/>
<circle cx="514.91" cy="251.7" r="4.17"/>
<circle cx="518.5" cy="252.9" r="4.17"/>
<circle cx="522.08" cy="254.2" r="4.17"/>
<circle cx="525.67" cy="255.4" r="4.17"/>
<circle cx="529.25" cy="259.1" r="4.17"/>
<circle cx="532.84" cy="262.3" r="4.17"/>
<circle cx="536.42" cy="263.2" r="4.17"/>
<circle cx="540.01" cy="260.4" r="4.17"/>
<circle cx="543.6" cy="261.7" r="4.17"/>
<circle cx="547.18" cy="259.8" r="4.17"/>
<circle cx="550.76" cy="259.2" r="4.17"/>
<circle cx="554.35" cy="255.5" r="4.17"/>
<circle cx="557.93" cy="255.5" r="4.17"/>
<circle cx="561.52" cy="254.2" r="4.17"/>
<circle cx="565.11" cy="253.6" r="4.17"/>
<circle cx="568.69" cy="253" r="4.17"/>
<circle cx="572.27" cy="256.7" r="4.17"/>
<circle cx="575.86" cy="253" r="4.17"/>
<circle cx="579.44" cy="252.4" r="4.17"/>
<circle cx="583.03" cy="251.1" r="4.17"/>
<circle cx="586.62" cy="250.5" r="4.17"/>
<circle cx="590.2" cy="249" r="4.17"/>
<circle cx="593.78" cy="249.9" r="4.17"/>
<circle cx="597.37" cy="249.9" r="4.17"/>
<circle cx="600.95" cy="249.9" r="4.17"/>
<circle cx="604.54" cy="250.5" r="4.17"/>
<circle cx="608.12" cy="252.4" r="4.17"/>
<circle cx="611.71" cy="250.5" r="4.17"/>
<circle cx="615.29" cy="248" r="4.17"/>
<circle cx="618.88" cy="251.1" r="4.17"/>
<circle cx="622.46" cy="251.7" r="4.17"/>
<circle cx="626.05" cy="253" r="4.17"/>
<circle cx="629.63" cy="254.8" r="4.17"/>
<circle cx="633.22" cy="257.3" r="4.17"/>
<circle cx="636.8" cy="255.5" r="4.17"/>
<circle cx="640.39" cy="253.6" r="4.17"/>
<circle cx="643.97" cy="251.7" r="4.17"/>
<circle cx="647.56" cy="247.4" r="4.17"/>
<circle cx="651.14" cy="246.1" r="4.17"/>
<circle cx="654.73" cy="245.8" r="4.17"/>
<circle cx="658.31" cy="244.9" r="4.17"/>
<circle cx="661.9" cy="247.2" r="4.17"/>
<circle cx="665.48" cy="243" r="4.17"/>
<circle cx="669.07" cy="241.7" r="4.17"/>
<circle cx="672.65" cy="241.1" r="4.17"/>
<circle cx="676.24" cy="240.5" r="4.17"/>
<circle cx="679.82" cy="240.5" r="4.17"/>
<circle cx="683.41" cy="238" r="4.17"/>
<circle cx="687" cy="234.8" r="4.17"/>
<circle cx="690.58" cy="233.5" r="4.17"/>
<circle cx="694.16" cy="234.6" r="4.17"/>
<circle cx="697.75" cy="236.1" r="4.17"/>
<circle cx="701.33" cy="238" r="4.17"/>
<circle cx="704.92" cy="238.6" r="4.17"/>
<circle cx="708.5" cy="238.6" r="4.17"/>
<circle cx="712.09" cy="238" r="4.17"/>
<circle cx="715.67" cy="236.1" r="4.17"/>
<circle cx="719.26" cy="234.3" r="4.17"/>
<circle cx="722.84" cy="233.6" r="4.17"/>
<circle cx="726.43" cy="234.3" r="4.17"/>
<circle cx="730.01" cy="239.9" r="4.17"/>
<circle cx="733.6" cy="239.2" r="4.17"/>
<circle cx="737.18" cy="239.2" r="4.17"/>
<circle cx="740.77" cy="239.2" r="4.17"/>
<circle cx="744.35" cy="239.2" r="4.17"/>
<circle cx="747.94" cy="239.9" r="4.17"/>
<circle cx="751.52" cy="242.4" r="4.17"/>
<circle cx="755.11" cy="243" r="4.17"/>
<circle cx="758.69" cy="243.6" r="4.17"/>
<circle cx="762.28" cy="244.8" r="4.17"/>
<circle cx="765.86" cy="244.8" r="4.17"/>
<circle cx="769.45" cy="245.5" r="4.17"/>
<circle cx="773.03" cy="244.2" r="4.17"/>
<circle cx="776.62" cy="241.7" r="4.17"/>
<circle cx="780.2" cy="241.4" r="4.17"/>
<circle cx="783.79" cy="244.8" r="4.17"/>
<circle cx="787.38" cy="244.2" r="4.17"/>
<circle cx="790.96" cy="243" r="4.17"/>
<circle cx="794.54" cy="246.1" r="4.17"/>
<circle cx="798.13" cy="245.5" r="4.17"/>
<circle cx="801.71" cy="245.5" r="4.17"/>
<circle cx="805.3" cy="245.5" r="4.17"/>
<circle cx="808.88" cy="244.8" r="4.17"/>
<circle cx="812.47" cy="244.8" r="4.17"/>
<circle cx="816.05" cy="245.5" r="4.17"/>
<circle cx="819.64" cy="248" r="4.17"/>
<circle cx="823.22" cy="250.4" r="4.17"/>
<circle cx="826.81" cy="251.7" r="4.17"/>
<circle cx="830.39" cy="251.7" r="4.17"/>
<circle cx="833.98" cy="250.4" r="4.17"/>
<circle cx="837.56" cy="248" r="4.17"/>
<circle cx="841.15" cy="247.3" r="4.17"/>
<circle cx="844.73" cy="248" r="4.17"/>
<circle cx="848.32" cy="246.7" r="4.17"/>
<circle cx="851.9" cy="247.3" r="4.17"/>
<circle cx="855.49" cy="248" r="4.17"/>
<circle cx="859.07" cy="247.3" r="4.17"/>
<circle cx="862.66" cy="245.5" r="4.17"/>
<circle cx="866.24" cy="243" r="4.17"/>
<circle cx="869.83" cy="242.4" r="4.17"/>
<circle cx="873.41" cy="242.4" r="4.17"/>
<circle cx="877" cy="241.7" r="4.17"/>
<circle cx="880.58" cy="241.1" r="4.17"/>
<circle cx="884.17" cy="241.7" r="4.17"/>
<circle cx="887.75" cy="243" r="4.17"/>
<circle cx="891.34" cy="245.8" r="4.17"/>
<circle cx="894.92" cy="244.2" r="4.17"/>
<circle cx="898.51" cy="243.6" r="4.17"/>
<circle cx="902.09" cy="243" r="4.17"/>
<circle cx="905.68" cy="243" r="4.17"/>
<circle cx="909.26" cy="242.4" r="4.17"/>
<circle cx="912.85" cy="241.7" r="4.17"/>
<circle cx="916.43" cy="241.1" r="4.17"/>
<circle cx="920.02" cy="240.5" r="4.17"/>
<circle cx="923.6" cy="239.9" r="4.17"/>
<circle cx="927.19" cy="239.2" r="4.17"/>
<circle cx="930.77" cy="243.6" r="4.17"/>
<circle cx="934.36" cy="244.2" r="4.17"/>
<circle cx="937.94" cy="239.2" r="4.17"/>
<circle cx="941.53" cy="239.9" r="4.17"/>
<circle cx="945.11" cy="241.1" r="4.17"/>
<circle cx="948.7" cy="241.7" r="4.17"/>
<circle cx="952.28" cy="246.1" r="4.17"/>
<circle cx="955.87" cy="243" r="4.17"/>
<circle cx="959.45" cy="241.7" r="4.17"/>
<circle cx="963.04" cy="241.1" r="4.17"/>
<circle cx="966.62" cy="240.5" r="4.17"/>
<circle cx="970.21" cy="240.5" r="4.17"/>
<circle cx="973.79" cy="241.1" r="4.17"/>
<circle cx="977.38" cy="241.1" r="4.17"/>
<circle cx="980.96" cy="241.7" r="4.17"/>
<circle cx="984.55" cy="242.4" r="4.17"/>
<circle cx="988.13" cy="243.6" r="4.17"/>
<circle cx="991.72" cy="243" r="4.17"/>
<circle cx="995.3" cy="243.6" r="4.17"/>
<circle cx="998.89" cy="241.7" r="4.17"/>
<circle cx="1002.47" cy="241.1" r="4.17"/>
</g>
<path d="M88 404.8 V407.8 M92 408.8 V411.8 M95 407.2 V410.2 M99 407.2 V410.2 M103 405 V408 M106 405 V408 M110 405 V408 M113 405 V408 M117 405 V408 M121 406.3 V409.3 M124 406.3 V409.3 M128 405 V408 M131 405 V408 M135 405 V408 M138 405.8 V408.8 M142 407.1 V410.1 M146 407.1 V410.1 M149 407.1 V410.1 M153 407.1 V410.1 M156 407.1 V410.1 M160 407.1 V410.1 M164 407.1 V410.1 M167 407.1 V410.1 M171 407.1 V410.1 M174 407.1 V410.1 M178 407.1 V410.1 M182 407.1 V410.1 M185 407.1 V410.1 M189 407.1 V410.1 M192 407.1 V410.1 M196 407.1 V410.1 M199 407.1 V410.1 M203 407.1 V410.1 M207 407.1 V410.1 M210 407.1 V410.1 M214 407.1 V410.1 M217 407.1 V410.1 M221 407.1 V410.1 M225 407.1 V410.1 M228 407.1 V410.1 M232 407.1 V410.1 M235 407.1 V410.1 M239 406.6 V409.6 M242 406.6 V409.6 M246 406.6 V409.6 M250 406.6 V409.6 M253 406.6 V409.6 M257 406.6 V409.6 M260 406.6 V409.6 M264 406.6 V409.6 M268 406.6 V409.6 M271 406.6 V409.6 M275 406.6 V409.6 M278 406.6 V409.6 M282 406.6 V409.6 M285 406.6 V409.6 M289 405.7 V408.7 M293 405.68 V408.68 M296 405.65 V408.65 M300 405.62 V408.62 M303 405.6 V408.6 M307 405.57 V408.57 M311 405.55 V408.55 M314 405.52 V408.52 M318 405.5 V408.5 M321 405.47 V408.47 M325 405.45 V408.45 M328 405.43 V408.43 M332 405.4 V408.4 M336 405.38 V408.38 M339 405.35 V408.35 M343 405.32 V408.32 M346 406.1 V409.1 M350 405.27 V408.27 M354 405.25 V408.25 M357 405.22 V408.22 M361 405.2 V408.2 M364 405.18 V408.18 M368 405.15 V408.15 M372 405.12 V408.12 M375 405.1 V408.1 M379 405.1 V408.1 M382 405.1 V408.1 M386 405.09 V408.09 M389 405.09 V408.09 M393 405.09 V408.09 M397 405.09 V408.09 M400 405.09 V408.09 M404 405.09 V408.09 M407 405.08 V408.08 M411 405.08 V408.08 M415 405.08 V408.08 M418 405.08 V408.08 M422 405.08 V408.08 M425 405.08 V408.08 M429 405.07 V408.07 M432 405.07 V408.07 M436 405.07 V408.07 M440 405.07 V408.07 M443 405.07 V408.07 M447 405.06 V408.06 M450 405.06 V408.06 M454 405.06 V408.06 M458 405.06 V408.06 M461 405.06 V408.06 M465 405.06 V408.06 M468 405.05 V408.05 M472 405.05 V408.05 M475 405.05 V408.05 M479 405.05 V408.05 M483 405.05 V408.05 M486 405.05 V408.05 M490 405.04 V408.04 M493 405.04 V408.04 M497 405.04 V408.04 M501 405.04 V408.04 M504 405.04 V408.04 M508 405.04 V408.04 M511 405.03 V408.03 M515 405.03 V408.03 M518 405.03 V408.03 M522 405.03 V408.03 M526 405.03 V408.03 M529 405.02 V408.02 M533 405.02 V408.02 M536 405.02 V408.02 M540 405.02 V408.02 M544 405.02 V408.02 M547 405.02 V408.02 M551 405.01 V408.01 M554 405.01 V408.01 M558 405.01 V408.01 M562 405.01 V408.01 M565 405.01 V408.01 M569 405.01 V408.01 M572 405 V408 M576 405 V408 M579 405 V408 M583 405 V408 M587 405 V408 M590 404.99 V407.99 M594 404.99 V407.99 M597 404.99 V407.99 M601 404.99 V407.99 M605 404.99 V407.99 M608 404.99 V407.99 M612 404.98 V407.98 M615 404.98 V407.98 M619 404.98 V407.98 M622 404.98 V407.98 M626 404.98 V407.98 M630 404.98 V407.98 M633 404.97 V407.97 M637 404.97 V407.97 M640 404.97 V407.97 M644 404.97 V407.97 M648 404.97 V407.97 M651 404.96 V407.96 M655 404.96 V407.96 M658 404.96 V407.96 M662 404.96 V407.96 M665 404.96 V407.96 M669 404.96 V407.96 M673 404.95 V407.95 M676 404.95 V407.95 M680 404.95 V407.95 M683 404.95 V407.95 M687 404.95 V407.95 M691 404.95 V407.95 M694 404.94 V407.94 M698 404.94 V407.94 M701 404.94 V407.94 M705 404.94 V407.94 M709 404.94 V407.94 M712 404.94 V407.94 M716 404.93 V407.93 M719 404.93 V407.93 M723 404.93 V407.93 M726 404.93 V407.93 M730 404.93 V407.93 M734 404.92 V407.92 M737 404.92 V407.92 M741 404.92 V407.92 M744 404.92 V407.92 M748 404.92 V407.92 M752 404.92 V407.92 M755 404.91 V407.91 M759 404.91 V407.91 M762 404.91 V407.91 M766 404.91 V407.91 M769 404.91 V407.91 M773 404.91 V407.91 M777 404.9 V407.9 M780 404.9 V407.9 M784 404.1 V407.1 M787 405.3 V408.3 M791 404.1 V407.1 M795 405.3 V408.3 M798 404.1 V407.1 M802 405.3 V408.3 M805 404.4 V407.4 M809 404.4 V407.4 M812 404.4 V407.4 M816 404.4 V407.4 M820 404.4 V407.4 M823 404.4 V407.4 M827 404.4 V407.4 M830 404.4 V407.4 M834 404.4 V407.4 M838 404.4 V407.4 M841 404.4 V407.4 M845 404.4 V407.4 M848 404.4 V407.4 M852 404.4 V407.4 M855 404.4 V407.4 M859 404.4 V407.4 M863 404.4 V407.4 M866 404.4 V407.4 M870 404.4 V407.4 M873 404.4 V407.4 M877 404.4 V407.4 M881 404.4 V407.4 M884 404.4 V407.4 M888 404.4 V407.4 M891 404.4 V407.4 M895 404.4 V407.4 M899 404.4 V407.4 M902 404.4 V407.4 M906 404.4 V407.4 M909 404.4 V407.4 M913 404.4 V407.4 M916 404.4 V407.4 M920 404.4 V407.4 M924 404.4 V407.4 M927 404.4 V407.4 M931 404.4 V407.4 M934 404.4 V407.4 M938 404.4 V407.4 M942 404.4 V407.4 M945 404.4 V407.4 M949 404.4 V407.4 M952 404.4 V407.4 M956 404.4 V407.4 M959 404.4 V407.4 M963 404.4 V407.4 M967 404.4 V407.4 M970 404.4 V407.4 M974 404.4 V407.4 M977 404.4 V407.4 M981 404.4 V407.4 M985 404.4 V407.4 M988 404.4 V407.4 M992 404.4 V407.4 M995 404.4 V407.4 M999 404.4 V407.4 M1002 404.4 V407.4" stroke="#2ca02c" stroke-opacity="0.8" stroke-width="2" fill="none"/>
<g fill="none" stroke="#2ca02c" stroke-opacity="0.8" stroke-width="1.39">
<circle cx="88.3" cy="406.3" r="4.17"/>
<circle cx="91.88" cy="410.3" r="4.17"/>
<circle cx="95.47" cy="408.7" r="4.17"/>
<circle cx="99.05" cy="408.7" r="4.17"/>
<circle cx="102.64" cy="406.5" r="4.17"/>
<circle cx="106.22" cy="406.5" r="4.17"/>
<circle cx="109.81" cy="406.5" r="4.17"/>
<circle cx="113.39" cy="406.5" r="4.17"/>
<circle cx="116.98" cy="406.5" r="4.17"/>
<circle cx="120.56" cy="407.8" r="4.17"/>
<circle cx="124.15" cy="407.8" r="4.17"/>
<circle cx="127.73" cy="406.5" r="4.17"/>
<circle cx="131.32" cy="406.5" r="4.17"/>
<circle cx="134.91" cy="406.5" r="4.17"/>
<circle cx="138.49" cy="407.3" r="4.17"/>
<circle cx="142.07" cy="408.6" r="4.17"/>
<circle cx="145.66" cy="408.6" r="4.17"/>
<circle cx="149.25" cy="408.6" r="4.17"/>
<circle cx="152.83" cy="408.6" r="4.17"/>
<circle cx="156.41" cy="408.6" r="4.17"/>
<circle cx="160" cy="408.6" r="4.17"/>
<circle cx="163.58" cy="408.6" r="4.17"/>
<circle cx="167.17" cy="408.6" r="4.17"/>
<circle cx="170.75" cy="408.6" r="4.17"/>
<circle cx="174.34" cy="408.6" r="4.17"/>
<circle cx="177.93" cy="408.6" r="4.17"/>
<circle cx="181.51" cy="408.6" r="4.17"/>
<circle cx="185.09" cy="408.6" r="4.17"/>
<circle cx="188.68" cy="408.6" r="4.17"/>
<circle cx="192.26" cy="408.6" r="4.17"/>
<circle cx="195.85" cy="408.6" r="4.17"/>
<circle cx="199.44" cy="408.6" r="4.17"/>
<circle cx="203.02" cy="408.6" r="4.17"/>
<circle cx="206.6" cy="408.6" r="4.17"/>
<circle cx="210.19" cy="408.6" r="4.17"/>
<circle cx="213.77" cy="408.6" r="4.17"/>
<circle cx="217.36" cy="408.6" r="4.17"/>
<circle cx="220.94" cy="408.6" r="4.17"/>
<circle cx="224.53" cy="408.6" r="4.17"/>
<circle cx="228.12" cy="408.6" r="4.17"/>
<circle cx="231.7" cy="408.6" r="4.17"/>
<circle cx="235.28" cy="408.6" r="4.17"/>
<circle cx="238.87" cy="408.1" r="4.17"/>
<circle cx="242.45" cy="408.1" r="4.17"/>
<circle cx="246.04" cy="408.1" r="4.17"/>
<circle cx="249.62" cy="408.1" r="4.17"/>
<circle cx="253.21" cy="408.1" r="4.17"/>
<circle cx="256.8" cy="408.1" r="4.17"/>
<circle cx="260.38" cy="408.1" r="4.17"/>
<circle cx="263.96" cy="408.1" r="4.17"/>
<circle cx="267.55" cy="408.1" r="4.17"/>
<circle cx="271.13" cy="408.1" r="4.17"/>
<circle cx="274.72" cy="408.1" r="4.17"/>
<circle cx="278.31" cy="408.1" r="4.17"/>
<circle cx="281.89" cy="408.1" r="4.17"/>
<circle cx="285.48" cy="408.1" r="4.17"/>
<circle cx="289.06" cy="407.2" r="4.17"/>
<circle cx="292.64" cy="407.18" r="4.17"/>
<circle cx="296.23" cy="407.15" r="4.17"/>
<circle cx="299.81" cy="407.12" r="4.17"/>
<circle cx="303.4" cy="407.1" r="4.17"/>
<circle cx="306.99" cy="407.07" r="4.17"/>
<circle cx="310.57" cy="407.05" r="4.17"/>
<circle cx="314.15" cy="407.02" r="4.17"/>
<circle cx="317.74" cy="407" r="4.17"/>
<circle cx="321.32" cy="406.97" r="4.17"/>
<circle cx="324.91" cy="406.95" r="4.17"/>
<circle cx="328.5" cy="406.93" r="4.17"/>
<circle cx="332.08" cy="406.9" r="4.17"/>
<circle cx="335.67" cy="406.88" r="4.17"/>
<circle cx="339.25" cy="406.85" r="4.17"/>
<circle cx="342.83" cy="406.82" r="4.17"/>
<circle cx="346.42" cy="407.6" r="4.17"/>
<circle cx="350" cy="406.77" r="4.17"/>
<circle cx="353.59" cy="406.75" r="4.17"/>
<circle cx="357.18" cy="406.72" r="4.17"/>
<circle cx="360.76" cy="406.7" r="4.17"/>
<circle cx="364.35" cy="406.68" r="4.17"/>
<circle cx="367.93" cy="406.65" r="4.17"/>
<circle cx="371.51" cy="406.62" r="4.17"/>
<circle cx="375.1" cy="406.6" r="4.17"/>
<circle cx="378.69" cy="406.6" r="4.17"/>
<circle cx="382.27" cy="406.6" r="4.17"/>
<circle cx="385.86" cy="406.59" r="4.17"/>
<circle cx="389.44" cy="406.59" r="4.17"/>
<circle cx="393.03" cy="406.59" r="4.17"/>
<circle cx="396.61" cy="406.59" r="4.17"/>
<circle cx="400.19" cy="406.59" r="4.17"/>
<circle cx="403.78" cy="406.59" r="4.17"/>
<circle cx="407.37" cy="406.58" r="4.17"/>
<circle cx="410.95" cy="406.58" r="4.17"/>
<circle cx="414.54" cy="406.58" r="4.17"/>
<circle cx="418.12" cy="406.58" r="4.17"/>
<circle cx="421.7" cy="406.58" r="4.17"/>
<circle cx="425.29" cy="406.58" r="4.17"/>
<circle cx="428.88" cy="406.57" r="4.17"/>
<circle cx="432.46" cy="406.57" r="4.17"/>
<circle cx="436.05" cy="406.57" r="4.17"/>
<circle cx="439.63" cy="406.57" r="4.17"/>
<circle cx="443.22" cy="406.57" r="4.17"/>
<circle cx="446.8" cy="406.56" r="4.17"/>
<circle cx="450.38" cy="406.56" r="4.17"/>
<circle cx="453.97" cy="406.56" r="4.17"/>
<circle cx="457.56" cy="406.56" r="4.17"/>
<circle cx="461.14" cy="406.56" r="4.17"/>
<circle cx="464.73" cy="406.56" r="4.17"/>
<circle cx="468.31" cy="406.55" r="4.17"/>
<circle cx="471.89" cy="406.55" r="4.17"/>
<circle cx="475.48" cy="406.55" r="4.17"/>
<circle cx="479.06" cy="406.55" r="4.17"/>
<circle cx="482.65" cy="406.55" r="4.17"/>
<circle cx="486.24" cy="406.55" r="4.17"/>
<circle cx="489.82" cy="406.54" r="4.17"/>
<circle cx="493.41" cy="406.54" r="4.17"/>
<circle cx="496.99" cy="406.54" r="4.17"/>
<circle cx="500.57" cy="406.54" r="4.17"/>
<circle cx="504.16" cy="406.54" r="4.17"/>
<circle cx="507.75" cy="406.54" r="4.17"/>
<circle cx="511.33" cy="406.53" r="4.17"/>
<circle cx="514.91" cy="406.53" r="4.17"/>
<circle cx="518.5" cy="406.53" r="4.17"/>
<circle cx="522.08" cy="406.53" r="4.17"/>
<circle cx="525.67" cy="406.53" r="4.17"/>
<circle cx="529.25" cy="406.52" r="4.17"/>
<circle cx="532.84" cy="406.52" r="4.17"/>
<circle cx="536.42" cy="406.52" r="4.17"/>
<circle cx="540.01" cy="406.52" r="4.17"/>
<circle cx="543.6" cy="406.52" r="4.17"/>
<circle cx="547.18" cy="406.52" r="4.17"/>
<circle cx="550.76" cy="406.51" r="4.17"/>
<circle cx="554.35" cy="406.51" r="4.17"/>
<circle cx="557.93" cy="406.51" r="4.17"/>
<circle cx="561.52" cy="406.51" r="4.17"/>
<circle cx="565.11" cy="406.51" r="4.17"/>
<circle cx="568.69" cy="406.51" r="4.17"/>
<circle cx="572.27" cy="406.5" r="4.17"/>
<circle cx="575.86" cy="406.5" r="4.17"/>
<circle cx="579.44" cy="406.5" r="4.17"/>
<circle cx="583.03" cy="406.5" r="4.17"/>
<circle cx="586.62" cy="406.5" r="4.17"/>
<circle cx="590.2" cy="406.49" r="4.17"/>
<circle cx="593.78" cy="406.49" r="4.17"/>
<circle cx="597.37" cy="406.49" r="4.17"/>
<circle cx="600.95" cy="406.49" r="4.17"/>
<circle cx="604.54" cy="406.49" r="4.17"/>
<circle cx="608.12" cy="406.49" r="4.17"/>
<circle cx="611.71" cy="406.48" r="4.17"/>
<circle cx="615.29" cy="406.48" r="4.17"/>
<circle cx="618.88" cy="406.48" r="4.17"/>
<circle cx="622.46" cy="406.48" r="4.17"/>
<circle cx="626.05" cy="406.48" r="4.17"/>
<circle cx="629.63" cy="406.48" r="4.17"/>
<circle cx="633.22" cy="406.47" r="4.17"/>
<circle cx="636.8" cy="406.47" r="4.17"/>
<circle cx="640.39" cy="406.47" r="4.17"/>
<circle cx="643.97" cy="406.47" r="4.17"/>
<circle cx="647.56" cy="406.47" r="4.17"/>
<circle cx="651.14" cy="406.46" r="4.17"/>
<circle cx="654.73" cy="406.46" r="4.17"/>
<circle cx="658.31" cy="406.46" r="4.17"/>
<circle cx="661.9" cy="406.46" r="4.17"/>
<circle cx="665.48" cy="406.46" r="4.17"/>
<circle cx="669.07" cy="406.46" r="4.17"/>
<circle cx="672.65" cy="406.45" r="4.17"/>
<circle cx="676.24" cy="406.45" r="4.17"/>
<circle cx="679.82" cy="406.45" r="4.17"/>
<circle cx="683.41" cy="406.45" r="4.17"/>
<circle cx="687" cy="406.45" r="4.17"/>
<circle cx="690.58" cy="406.45" r="4.17"/>
<circle cx="694.16" cy="406.44" r="4.17"/>
<circle cx="697.75" cy="406.44" r="4.17"/>
<circle cx="701.33" cy="406.44" r="4.17"/>
<circle cx="704.92" cy="406.44" r="4.17"/>
<circle cx="708.5" cy="406.44" r="4.17"/>
<circle cx="712.09" cy="406.44" r="4.17"/>
<circle cx="715.67" cy="406.43" r="4.17"/>
<circle cx="719.26" cy="406.43" r="4.17"/>
<circle cx="722.84" cy="406.43" r="4.17"/>
<circle cx="726.43" cy="406.43" r="4.17"/>
<circle cx="730.01" cy="406.43" r="4.17"/>
<circle cx="733.6" cy="406.42" r="4.17"/>
<circle cx="737.18" cy="406.42" r="4.17"/>
<circle cx="740.77" cy="406.42" r="4.17"/>
<circle cx="744.35" cy="406.42" r="4.17"/>
<circle cx="747.94" cy="406.42" r="4.17"/>
<circle cx="751.52" cy="406.42" r="4.17"/>
<circle cx="755.11" cy="406.41" r="4.17"/>
<circle cx="758.69" cy="406.41" r="4.17"/>
<circle cx="762.28" cy="406.41" r="4.17"/>
<circle cx="765.86" cy="406.41" r="4.17"/>
<circle cx="769.45" cy="406.41" r="4.17"/>
<circle cx="773.03" cy="406.41" r="4.17"/>
<circle cx="776.62" cy="406.4" r="4.17"/>
<circle cx="780.2" cy="406.4" r="4.17"/>
<circle cx="783.79" cy="405.6" r="4.17"/>
<circle cx="787.38" cy="406.8" r="4.17"/>
<circle cx="790.96" cy="405.6" r="4.17"/>
<circle cx="794.54" cy="406.8" r="4.17"/>
<circle cx="798.13" cy="405.6" r="4.17"/>
<circle cx="801.71" cy="406.8" r="4.17"/>
<circle cx="805.3" cy="405.9" r="4.17"/>
<circle cx="808.88" cy="405.9" r="4.17"/>
<circle cx="812.47" cy="405.9" r="4.17"/>
<circle cx="816.05" cy="405.9" r="4.17"/>
<circle cx="819.64" cy="405.9" r="4.17"/>
<circle cx="823.22" cy="405.9" r="4.17"/>
<circle cx="826.81" cy="405.9" r="4.17"/>
<circle cx="830.39" cy="405.9" r="4.17"/>
<circle cx="833.98" cy="405.9" r="4.17"/>
<circle cx="837.56" cy="405.9" r="4.17"/>
<circle cx="841.15" cy="405.9" r="4.17"/>
<circle cx="844.73" cy="405.9" r="4.17"/>
<circle cx="848.32" cy="405.9" r="4.17"/>
<circle cx="851.9" cy="405.9" r="4.17"/>
<circle cx="855.49" cy="405.9" r="4.17"/>
<circle cx="859.07" cy="405.9" r="4.17"/>
<circle cx="862.66" cy="405.9" r="4.17"/>
<circle cx="866.24" cy="405.9" r="4.17"/>
<circle cx="869.83" cy="405.9" r="4.17"/>
<circle cx="873.41" cy="405.9" r="4.17"/>
<circle cx="877" cy="405.9" r="4.17"/>
<circle cx="880.58" cy="405.9" r="4.17"/>
<circle cx="884.17" cy="405.9" r="4.17"/>
<circle cx="887.75" cy="405.9" r="4.17"/>
<circle cx="891.34" cy="405.9" r="4.17"/>
<circle cx="894.92" cy="405.9" r="4.17"/>
<circle cx="898.51" cy="405.9" r="4.17"/>
<circle cx="902.09" cy="405.9" r="4.17"/>
<circle cx="905.68" cy="405.9" r="4.17"/>
<circle cx="909.26" cy="405.9" r="4.17"/>
<circle cx="912.85" cy="405.9" r="4.17"/>
<circle cx="916.43" cy="405.9" r="4.17"/>
<circle cx="920.02" cy="405.9" r="4.17"/>
<circle cx="923.6" cy="405.9" r="4.17"/>
<circle cx="927.19" cy="405.9" r="4.17"/>
<circle cx="930.77" cy="405.9" r="4.17"/>
<circle cx="934.36" cy="405.9" r="4.17"/>
<circle cx="937.94" cy="405.9" r="4.17"/>
<circle cx="941.53" cy="405.9" r="4.17"/>
<circle cx="945.11" cy="405.9" r="4.17"/>
<circle cx="948.7" cy="405.9" r="4.17"/>
<circle cx="952.28" cy="405.9" r="4.17"/>
<circle cx="955.87" cy="405.9" r="4.17"/>
<circle cx="959.45" cy="405.9" r="4.17"/>
<circle cx="963.04" cy="405.9" r="4.17"/>
<circle cx="966.62" cy="405.9" r="4.17"/>
<circle cx="970.21" cy="405.9" r="4.17"/>
<circle cx="973.79" cy="405.9" r="4.17"/>
<circle cx="977.38" cy="405.9" r="4.17"/>
<circle cx="980.96" cy="405.9" r="4.17"/>
<circle cx="984.55" cy="405.9" r="4.17"/>
<circle cx="988.13" cy="405.9" r="4.17"/>
<circle cx="991.72" cy="405.9" r="4.17"/>
<circle cx="995.3" cy="405.9" r="4.17"/>
<circle cx="998.89" cy="405.9" r="4.17"/>
<circle cx="1002.47" cy="405.9" r="4.17"/>
</g>
</g>
<rect x="73.45" y="15.4" width="930.0" height="462.0" fill="none" stroke="#000" stroke-width="1.11"/>
<path d="M85.5 477.4 v4.86 M197.5 477.4 v4.86 M309.5 477.4 v4.86 M421.5 477.4 v4.86 M533.5 477.4 v4.86 M645.5 477.4 v4.86 M757.5 477.4 v4.86 M869.5 477.4 v4.86 M981.5 477.4 v4.86 M73.45 455.5 h-4.86 M73.45 400.5 h-4.86 M73.45 345.5 h-4.86 M73.45 290.5 h-4.86 M73.45 235.5 h-4.86 M73.45 180.5 h-4.86 M73.45 125.5 h-4.86 M73.45 70.5 h-4.86 M73.45 15.5 h-4.86" stroke="#000" stroke-width="1.11" fill="none"/>
<g font-family="'DejaVu Sans','Liberation Sans',sans-serif" font-size="13.89px" fill="#000">
<text x="85.1" y="498.3" text-anchor="middle" font-size="13.7px">0</text>
<text x="197.1" y="498.3" text-anchor="middle" font-size="13.7px">500</text>
<text x="309.1" y="498.3" text-anchor="middle" font-size="13.7px">1000</text>
<text x="421.1" y="498.3" text-anchor="middle" font-size="13.7px">1500</text>
<text x="533.1" y="498.3" text-anchor="middle" font-size="13.7px">2000</text>
<text x="645.1" y="498.3" text-anchor="middle" font-size="13.7px">2500</text>
<text x="757.1" y="498.3" text-anchor="middle" font-size="13.7px">3000</text>
<text x="869.1" y="498.3" text-anchor="middle" font-size="13.7px">3500</text>
<text x="981.1" y="498.3" text-anchor="middle" font-size="13.7px">4000</text>
<text x="63.4" y="460.8" text-anchor="end" font-size="13.7px">0.00</text>
<text x="63.4" y="405.8" text-anchor="end" font-size="13.7px">0.25</text>
<text x="63.4" y="350.8" text-anchor="end" font-size="13.7px">0.50</text>
<text x="63.4" y="295.8" text-anchor="end" font-size="13.7px">0.75</text>
<text x="63.4" y="240.8" text-anchor="end" font-size="13.7px">1.00</text>
<text x="63.4" y="185.8" text-anchor="end" font-size="13.7px">1.25</text>
<text x="63.4" y="130.8" text-anchor="end" font-size="13.7px">1.50</text>
<text x="63.4" y="75.8" text-anchor="end" font-size="13.7px">1.75</text>
<text x="63.4" y="20.8" text-anchor="end" font-size="13.7px">2.00</text>
<text x="539" y="517.8" text-anchor="middle"># randomizations</text>
<text transform="translate(20.9 246.8) rotate(-90)" text-anchor="middle">⟨<tspan font-style="italic">X</tspan><tspan font-size="9.72px" dy="2.3">6</tspan><tspan font-style="italic" dy="-2.3">Z</tspan><tspan font-size="9.72px" dy="2.3">13</tspan><tspan dy="-2.3">⟩</tspan></text>
<rect x="80.8" y="22.6" width="278.2" height="66.7" rx="2.8" fill="#fff" fill-opacity="0.8" stroke="#ccc" stroke-opacity="0.8" stroke-width="1.39"/>
<rect x="85.3" y="31.8" width="29.2" height="2.1" fill="#000"/>
<rect x="86.7" y="50.0" width="27.1" height="9.1" fill="#808080" fill-opacity="0.25" stroke="#808080" stroke-opacity="0.25" stroke-width="1.39"/>
<rect x="86.7" y="70.9" width="27.1" height="9.1" fill="#ff0000" fill-opacity="0.25" stroke="#ff0000" stroke-opacity="0.25" stroke-width="1.39"/>
<g font-size="13.7px"><text x="124.7" y="39">Exact</text><text x="124.7" y="60">Unphysical</text><text x="124.7" y="81">10% bias</text>
<rect x="241.1" y="26.3" width="2.08" height="13.5" fill="#1f77b4" fill-opacity="0.8"/>
<circle cx="242.15" cy="33.1" r="4.17" fill="none" stroke="#1f77b4" stroke-opacity="0.8" stroke-width="1.39"/>
<rect x="241.1" y="47.2" width="2.08" height="13.5" fill="#ff7f0e" fill-opacity="0.8"/>
<circle cx="242.15" cy="54" r="4.17" fill="none" stroke="#ff7f0e" stroke-opacity="0.8" stroke-width="1.39"/>
<rect x="241.1" y="68.3" width="2.08" height="13.5" fill="#2ca02c" fill-opacity="0.8"/>
<circle cx="242.15" cy="75.1" r="4.17" fill="none" stroke="#2ca02c" stroke-opacity="0.8" stroke-width="1.39"/>
<text x="267.7" y="39">PEC</text><text x="267.7" y="60">PEC+SLC</text><text x="267.7" y="81">Unmitigated</text></g>
</g>
</svg>
</body></html>
